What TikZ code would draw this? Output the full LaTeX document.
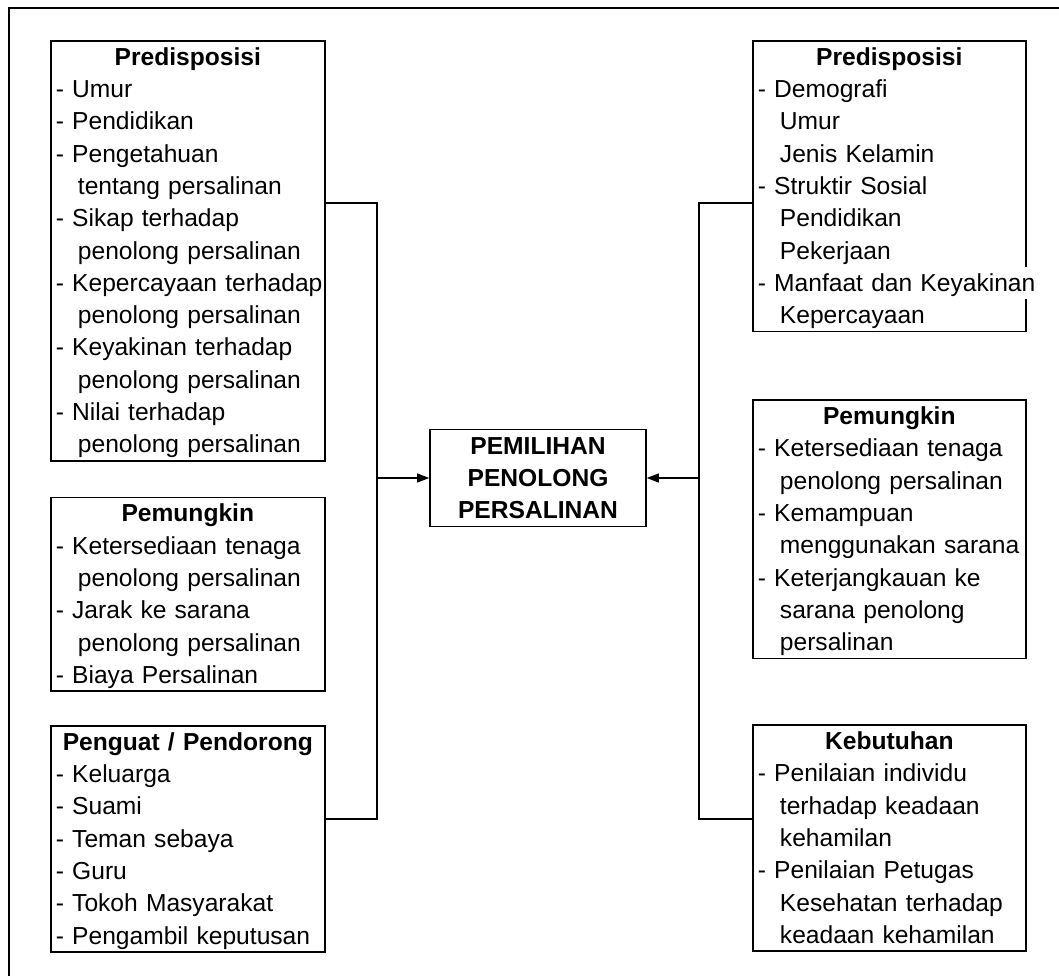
\documentclass[tikz,border=0pt]{standalone}
\usepackage{fontspec}
\setmainfont{Liberation Sans}
\usetikzlibrary{positioning}
\usetikzlibrary{arrows.meta}
\newcommand{\rowstrut}{\vrule height 24.5pt depth 7.8pt width 0pt}
\newcommand{\boxhead}[1]{\rowstrut\makebox[\linewidth][c]{\bfseries #1}}
\newcommand{\dashitem}[1]{\rowstrut- #1}
\newcommand{\moreitem}[1]{\rowstrut\hspace*{0.9em}#1}
\newcommand{\whiteout}[1]{{\setlength{\fboxsep}{0pt}\colorbox{white}{#1}}}

\begin{document}
\begin{tikzpicture}[x=1pt, y=-1pt, box/.style = {draw, line width=1.6pt, inner xsep=5pt, inner ysep=0pt, text width=#1, align=left, anchor=north west, font=\fontsize{24.6}{32.3}\selectfont}, bus/.style = {line width=1.8pt}, feed/.style = {line width=1.1pt, -{Triangle[length=12pt, width=9pt]}}]
            \useasboundingbox (0,0) rectangle (1059,976);
            \clip (0,0) rectangle (1059,976);
            \draw[line width=2pt] (9,8) rectangle (1100,1020);
            \node[box=264pt] (lpre) at (50,40) {\boxhead{Predisposisi}\\ \dashitem{Umur}\\ \dashitem{Pendidikan}\\ \dashitem{Pengetahuan}\\ \moreitem{tentang persalinan}\\ \dashitem{Sikap terhadap}\\ \moreitem{penolong persalinan}\\ \whiteout{\dashitem{Kepercayaan terhadap}}\\ \moreitem{penolong persalinan}\\ \dashitem{Keyakinan terhadap}\\ \moreitem{penolong persalinan}\\ \dashitem{Nilai terhadap}\\ \moreitem{penolong persalinan}};
            \node[box=264pt, below=35pt of lpre] (lpem) {\boxhead{Pemungkin}\\ \dashitem{Ketersediaan tenaga}\\ \moreitem{penolong persalinan}\\ \dashitem{Jarak ke sarana}\\ \moreitem{penolong persalinan}\\ \dashitem{Biaya Persalinan}};
            \node[box=264pt, below=33pt of lpem] (lpen) {\boxhead{Penguat / Pendorong}\\ \dashitem{Keluarga}\\ \dashitem{Suami}\\ \dashitem{Teman sebaya}\\ \dashitem{Guru}\\ \dashitem{Tokoh Masyarakat}\\ \dashitem{Pengambil keputusan}};
            \node[box=263pt] (rpre) at (752,40) {\boxhead{Predisposisi}\\ \dashitem{Demografi}\\ \moreitem{Umur}\\ \moreitem{Jenis Kelamin}\\ \dashitem{Struktir Sosial}\\ \moreitem{Pendidikan}\\ \moreitem{Pekerjaan}\\ \whiteout{\dashitem{Manfaat dan Keyakinan}}\\ \moreitem{Kepercayaan}};
            \node[box=263pt, below=67pt of rpre] (rpem) {\boxhead{Pemungkin}\\ \dashitem{Ketersediaan tenaga}\\ \moreitem{penolong persalinan}\\ \dashitem{Kemampuan}\\ \whiteout{\moreitem{menggunakan sarana}}\\ \dashitem{Keterjangkauan ke}\\ \moreitem{sarana penolong}\\ \moreitem{persalinan}};
            \node[box=263pt, below=65pt of rpem] (rkeb) {\boxhead{Kebutuhan}\\ \dashitem{Penilaian individu}\\ \moreitem{terhadap keadaan}\\ \moreitem{kehamilan}\\ \dashitem{Penilaian Petugas}\\ \moreitem{Kesehatan terhadap}\\ \moreitem{keadaan kehamilan}};
            \node[draw, line width=1.6pt, inner sep=0pt, minimum width=216pt, align=center, font=\fontsize{24.6}{32.3}\selectfont\bfseries] (pilih) at (538,478) {\rowstrut PEMILIHAN\\ \rowstrut PENOLONG\hspace*{0.28em}\\ \rowstrut PERSALINAN};
            \coordinate (ltop) at (377,203);
            \coordinate (lbot) at (377,819);
            \coordinate (rtop) at (699,203);
            \coordinate (rbot) at (699,819);
            \draw[bus] (lpre.east |- ltop) -- (ltop) -- (lbot) -- (lpen.east |- lbot);
            \draw[bus] (rpre.west |- rtop) -- (rtop) -- (rbot) -- (rkeb.west |- rbot);
            \draw[feed] (ltop |- pilih.west) -- (pilih.west);
            \draw[feed] (rtop |- pilih.east) -- (pilih.east);
        \end{tikzpicture}
\end{document}
